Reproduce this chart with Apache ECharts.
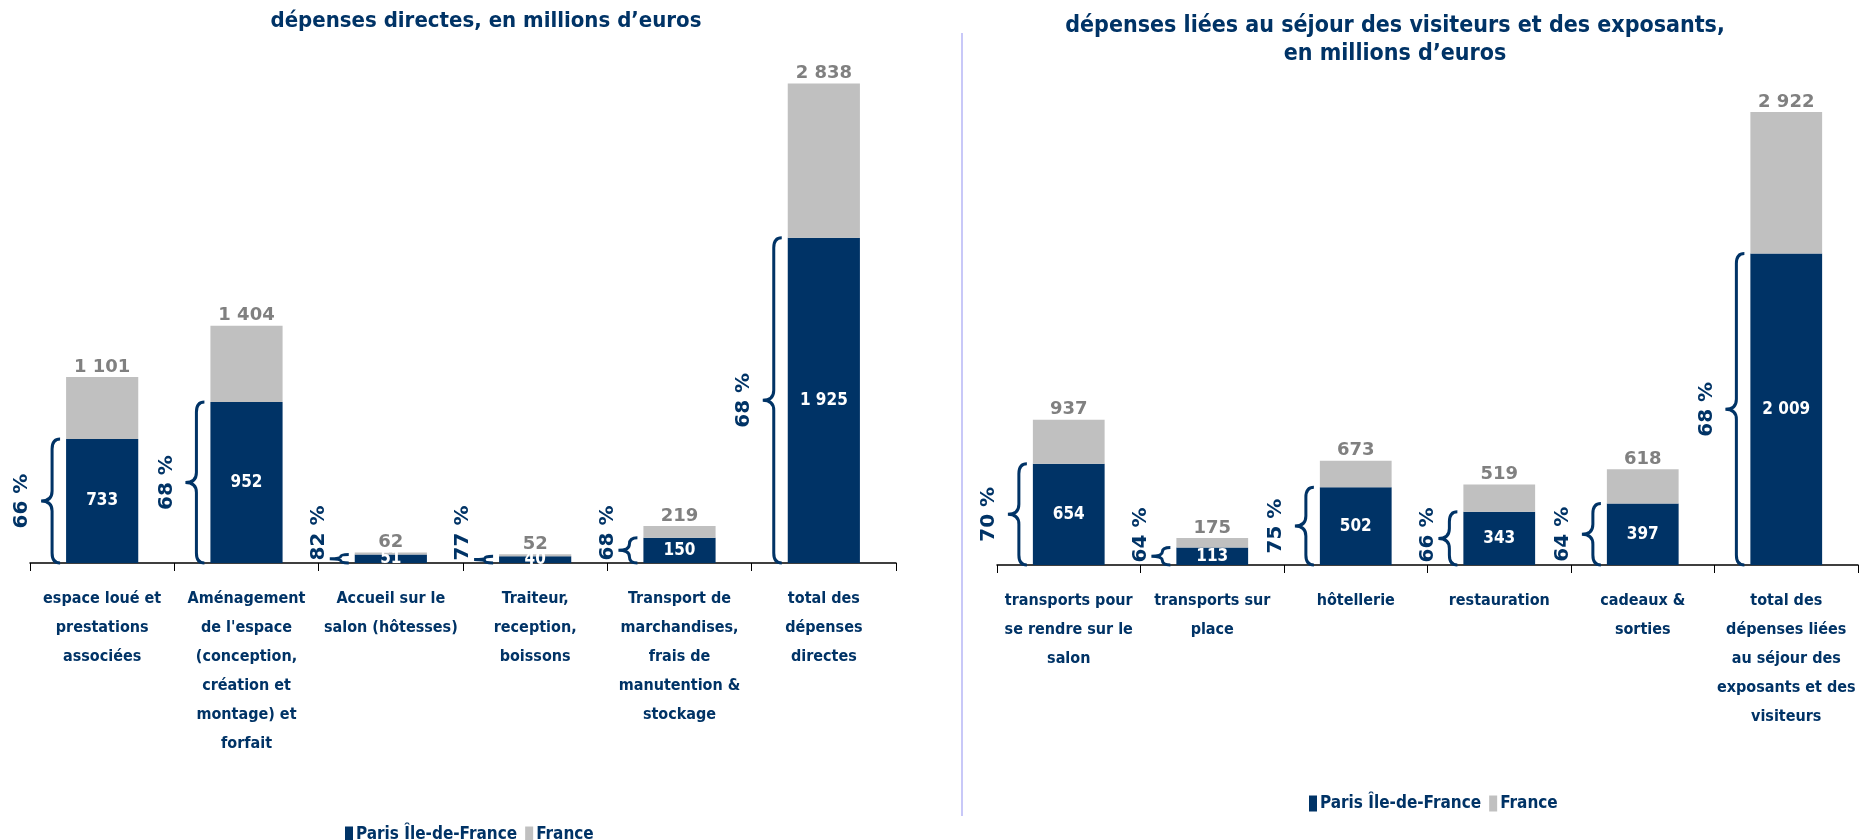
<!DOCTYPE html>
<html>
<head>
<meta charset="utf-8">
<script src="https://cdn.jsdelivr.net/npm/echarts@6/dist/echarts.min.js"></script>
<style>
  html, body { margin: 0; padding: 0; background: #fff; }
  #main { width: 1868px; height: 840px; }
</style>
</head>
<body>
<div id="main"></div>
<script>
// données - dépenses directes
const cats1 = [
  "espace loué et\nprestations\nassociées",
  "Aménagement\nde l'espace\n(conception,\ncréation et\nmontage) et\nforfait",
  "Accueil sur le\nsalon (hôtesses)",
  "Traiteur,\nreception,\nboissons",
  "Transport de\nmarchandises,\nfrais de\nmanutention &\nstockage",
  "total des\ndépenses\ndirectes"
];
const paris1 = [733, 952, 51, 40, 150, 1925];
const france1 = [1101, 1404, 62, 52, 219, 2838];
const pct1 = [66, 68, 82, 77, 68, 68];

// données - séjour des visiteurs et exposants
const cats2 = [
  "transports pour\nse rendre sur le\nsalon",
  "transports sur\nplace",
  "hôtellerie",
  "restauration",
  "cadeaux &\nsorties",
  "total des\ndépenses liées\nau séjour des\nexposants et des\nvisiteurs"
];
const paris2 = [654, 113, 502, 343, 397, 2009];
const france2 = [937, 175, 673, 519, 618, 2922];
const pct2 = [70, 64, 75, 66, 64, 68];

const NAVY = "#003366";
const GREY = "#c0c0c0";
const COND = '"DejaVu Sans Condensed", "DejaVu Sans", sans-serif';
const WIDE = '"DejaVu Sans", Verdana, sans-serif';

function fmt(v) {
  return String(v).replace(/\B(?=(\d{3})+(?!\d))/g, " ");
}

// accolade + pourcentage à gauche de la barre bleue
function renderBrace(params, api) {
  const i = api.value(0), v = api.value(1), p = api.value(2);
  const base = api.coord([i, 0]);
  const top = api.coord([i, v]);
  const cw = api.size([1, 0])[0];
  const barLeft = base[0] - cw * 0.25;
  const y0 = top[1], y1 = base[1], ym = (y0 + y1) / 2;
  const h = y1 - y0;
  const r = Math.min(10, h / 4);
  const xr = barLeft - 6, xm = barLeft - 14, xt = barLeft - 25;
  const d = "M" + xr + " " + y0 +
    " Q" + xm + " " + y0 + " " + xm + " " + (y0 + r) +
    " L" + xm + " " + (ym - r) +
    " Q" + xm + " " + ym + " " + xt + " " + ym +
    " Q" + xm + " " + ym + " " + xm + " " + (ym + r) +
    " L" + xm + " " + (y1 - r) +
    " Q" + xm + " " + y1 + " " + xr + " " + y1;
  const ty = Math.min(ym, y1 - 30);
  const tx = barLeft - (h > 60 ? 44 : 36);
  return {
    type: "group",
    silent: true,
    children: [
      { type: "path", shape: { pathData: d }, style: { stroke: NAVY, lineWidth: 3, fill: null } },
      {
        type: "text", x: tx, y: ty, rotation: Math.PI / 2,
        style: {
          text: p + " %", fill: NAVY, font: "bold 20px " + WIDE,
          align: "center", verticalAlign: "middle",
          textAlign: "center", textVerticalAlign: "middle"
        }
      }
    ]
  };
}

function barSeries(idx, paris, france) {
  return [
    {
      name: "Paris Île-de-France", type: "bar", stack: "s" + idx,
      xAxisIndex: idx, yAxisIndex: idx, barWidth: "50%",
      itemStyle: { color: NAVY },
      label: {
        show: true, position: "inside", color: "#fff",
        fontFamily: COND, fontWeight: "bold", fontSize: 17,
        formatter: p => fmt(p.value)
      },
      data: paris
    },
    {
      name: "France", type: "bar", stack: "s" + idx,
      xAxisIndex: idx, yAxisIndex: idx, barWidth: "50%",
      itemStyle: { color: GREY },
      label: {
        show: true, position: "top", distance: 1, color: "#808080",
        fontFamily: WIDE, fontWeight: "bold", fontSize: 18,
        formatter: p => fmt(france[p.dataIndex])
      },
      data: france.map((v, i) => v - paris[i])
    },
    {
      type: "custom", xAxisIndex: idx, yAxisIndex: idx, z: 5,
      renderItem: renderBrace, clip: false,
      data: paris.map((v, i) => [i, v, idx === 0 ? pct1[i] : pct2[i]])
    }
  ];
}

function xAxisCfg(idx, cats) {
  return {
    type: "category", gridIndex: idx, data: cats,
    axisLine: { lineStyle: { color: "#000", width: 1.5 } },
    axisTick: { show: true, length: 8, lineStyle: { color: "#000", width: 1 } },
    axisLabel: {
      interval: 0, margin: 21, color: NAVY,
      fontFamily: COND, fontWeight: "bold", fontSize: 16, lineHeight: 29
    }
  };
}

const legendCfg = (left, top) => ({
  left: left, top: top, data: ["Paris Île-de-France", "France"],
  icon: "rect", itemWidth: 8, itemHeight: 16, itemGap: 8,
  textStyle: { color: NAVY, fontFamily: COND, fontWeight: "bold", fontSize: 17, padding: [0, 0, 0, -2] }
});

const chart = echarts.init(document.getElementById("main"));
chart.setOption({
  animation: false,
  textStyle: { fontFamily: COND },
  grid: [
    { left: 30, right: 972, top: 56, bottom: 277 },
    { left: 997, right: 10, top: 100, bottom: 275 }
  ],
  xAxis: [xAxisCfg(0, cats1), xAxisCfg(1, cats2)],
  yAxis: [
    { type: "value", gridIndex: 0, min: 0, max: 3000, show: false },
    { type: "value", gridIndex: 1, min: 0, max: 3000, show: false }
  ],
  legend: [legendCfg(340, 821), legendCfg(1304, 790)],
  graphic: [
    {
      type: "text", x: 486, y: 21, silent: true,
      style: {
        text: "dépenses directes, en millions d’euros", fill: NAVY,
        font: "bold 22px " + COND, align: "center", verticalAlign: "middle",
        textAlign: "center", textVerticalAlign: "middle"
      }
    },
    {
      type: "text", x: 1395, y: 40, silent: true,
      style: {
        text: "dépenses liées au séjour des visiteurs et des exposants,\nen millions d’euros",
        fill: NAVY, font: "bold 23px " + COND, lineHeight: 28,
        align: "center", verticalAlign: "middle",
        textAlign: "center", textVerticalAlign: "middle"
      }
    },
    {
      type: "line", silent: true,
      shape: { x1: 962, y1: 33, x2: 962, y2: 816 },
      style: { stroke: "#c8c8f8", lineWidth: 2 }
    }
  ],
  series: [...barSeries(0, paris1, france1), ...barSeries(1, paris2, france2)]
});
</script>
</body>
</html>
